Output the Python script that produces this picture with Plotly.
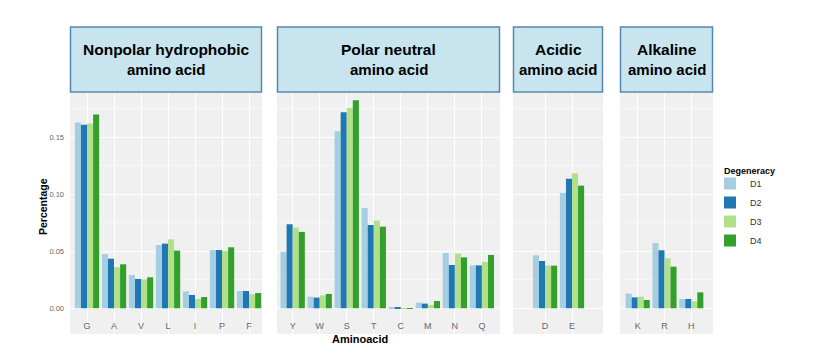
import plotly.graph_objects as go

# ---------------- data ----------------
amino = ["G", "A", "V", "L", "I", "P", "F",
         "Y", "W", "S", "T", "C", "M", "N", "Q",
         "D", "E",
         "K", "R", "H"]
group_sizes = [7, 8, 2, 3]
group_line1 = ["Nonpolar hydrophobic", "Polar neutral", "Acidic", "Alkaline"]
group_line2 = ["amino acid", "amino acid", "amino acid", "amino acid"]

D1 = [0.163, 0.0476, 0.0292, 0.0555, 0.0149, 0.0511, 0.0152,
      0.0497, 0.0102, 0.1553, 0.0880, 0.0006, 0.0050, 0.0485, 0.0377,
      0.0465, 0.1012,
      0.0129, 0.0573, 0.0082]
D2 = [0.161, 0.0435, 0.0257, 0.0567, 0.0117, 0.0511, 0.0152,
      0.0737, 0.0094, 0.1720, 0.0731, 0.0003, 0.0041, 0.0380, 0.0377,
      0.0415, 0.1137,
      0.0096, 0.0509, 0.0082]
D3 = [0.162, 0.0360, 0.0254, 0.0605, 0.0082, 0.0503, 0.0123,
      0.0708, 0.0114, 0.1757, 0.0769, 0.0002, 0.0029, 0.0480, 0.0406,
      0.0374, 0.1184,
      0.0102, 0.0439, 0.0061]
D4 = [0.170, 0.0386, 0.0272, 0.0506, 0.0099, 0.0535, 0.0134,
      0.0670, 0.0126, 0.1825, 0.0716, 0.0002, 0.0064, 0.0447, 0.0468,
      0.0374, 0.1076,
      0.0073, 0.0365, 0.0140]
series_names = ["D1", "D2", "D3", "D4"]
series_values = [D1, D2, D3, D4]
series_colors = ["#A6CEE3", "#1F78B4", "#B2DF8A", "#33A02C"]
y_ticks = [0.0, 0.05, 0.10, 0.15]

# ---------------- layout geometry (window pixels) ----------------
OFF = 8                      # default page body margin of the html page
W, H = 817 - OFF, 360 - OFF
panels_px = [(70, 262), (277, 500), (513, 603), (620, 713)]
x_ranges = [[-0.63, 6.48], [-0.58, 7.67], [-1.19, 2.15], [-0.66, 2.81]]
panel_top, panel_bot = 93, 334
strip_top, strip_bot = 27, 92
y_range = [-0.02254, 0.18886]


def px_x(p):
    return (p - OFF) / W


def px_y(p):
    return 1 - (p - OFF) / H


FONT = "Liberation Sans, Arial, sans-serif"

fig = go.Figure()

start = 0
for gi, n in enumerate(group_sizes):
    cats = amino[start:start + n]
    ax = "" if gi == 0 else str(gi + 1)
    for si in range(4):
        vals = series_values[si][start:start + n]
        fig.add_trace(go.Bar(
            x=cats, y=vals, name=series_names[si],
            marker=dict(color=series_colors[si], line=dict(width=0)),
            xaxis="x" + ax, yaxis="y" + ax,
            showlegend=(gi == 0), legendgroup=series_names[si],
        ))
    start += n

layout = dict(
    width=W, height=H,
    margin=dict(l=0, r=0, t=0, b=0),
    paper_bgcolor="white",
    plot_bgcolor="#f0f0f0",
    barmode="group", bargap=0.1, bargroupgap=0,
    font=dict(family=FONT, size=9, color="#555555"),
    legend=dict(
        x=px_x(710), y=px_y(169), xanchor="left", yanchor="top",
        font=dict(size=9, color="#333333"),
        bgcolor="rgba(0,0,0,0)", tracegroupgap=0, itemwidth=30,
    ),
)

shapes = []
annotations = []
for gi in range(4):
    ax = "" if gi == 0 else str(gi + 1)
    x0, x1 = panels_px[gi]
    layout["xaxis" + ax] = dict(
        domain=[px_x(x0), px_x(x1)], anchor="y" + ax,
        type="category", range=x_ranges[gi],
        showgrid=True, gridcolor="white", gridwidth=1,
        showline=False, zeroline=False, ticks="",
        ticklabelposition="inside",
        tickfont=dict(size=9, color="#666666"),
        fixedrange=True,
    )
    layout["yaxis" + ax] = dict(
        domain=[px_y(panel_bot), px_y(panel_top)], anchor="x" + ax,
        range=y_range, tickvals=y_ticks, tickformat=".2f",
        showticklabels=(gi == 0), ticklabelstandoff=5,
        tickfont=dict(size=7.5, color="#666666"),
        showgrid=True, gridcolor="white", gridwidth=1,
        minor=dict(dtick=0.025, tick0=0.025, showgrid=True, gridcolor="#f8f8f8", gridwidth=0.5),
        zeroline=False, showline=False, ticks="",
        fixedrange=True,
    )
    # strip box
    shapes.append(dict(
        type="rect", xref="paper", yref="paper",
        x0=px_x(x0 + 0.5), x1=px_x(x1 - 0.5),
        y0=px_y(strip_bot), y1=px_y(strip_top),
        fillcolor="#c8e4ee", line=dict(color="#5588b0", width=1.5),
        layer="below",
    ))
    cx = px_x((x0 + x1) / 2)
    annotations.append(dict(
        text="<b>" + group_line1[gi] + "</b>", x=cx, y=px_y(49.5),
        xref="paper", yref="paper", xanchor="center", yanchor="middle",
        showarrow=False, font=dict(size=15.5, color="black", family=FONT),
    ))
    annotations.append(dict(
        text="<b>" + group_line2[gi] + "</b>", x=cx, y=px_y(69.5),
        xref="paper", yref="paper", xanchor="center", yanchor="middle",
        showarrow=False, font=dict(size=15, color="black", family=FONT),
    ))

annotations.append(dict(
    text="<b>Degeneracy</b>", x=px_x(722), y=px_y(171),
    xref="paper", yref="paper", xanchor="left", yanchor="middle",
    showarrow=False, font=dict(size=9, color="black", family=FONT),
))
annotations.append(dict(
    text="<b>Percentage</b>", x=px_x(43), y=px_y(207),
    xref="paper", yref="paper", xanchor="center", yanchor="middle",
    textangle=-90, showarrow=False, font=dict(size=10.5, color="black", family=FONT),
))
annotations.append(dict(
    text="<b>Aminoacid</b>", x=px_x(360), y=px_y(339),
    xref="paper", yref="paper", xanchor="center", yanchor="middle",
    showarrow=False, font=dict(size=11, color="black", family=FONT),
))

layout["shapes"] = shapes
layout["annotations"] = annotations
fig.update_layout(**layout)

fig.write_html("out.html")
